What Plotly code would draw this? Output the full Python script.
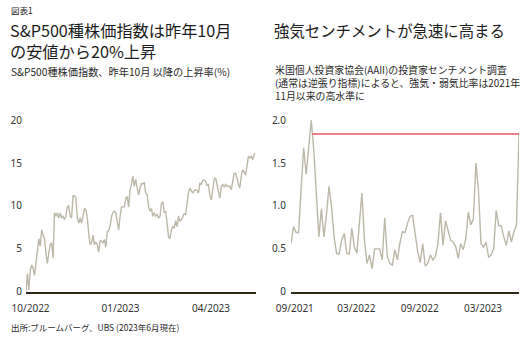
import numpy as np
import plotly.graph_objects as go
from plotly.subplots import make_subplots

# S&P 500: cumulative gain (%) since the October 2022 low, one value per trading day
sp500_gain = [
    0, 2.1, 0.2, 2.5, 3.1, 2.7, 1.9, 3.3, 4.5, 6.2,
    5.3, 7.2, 6.6, 6.2, 4.5, 3.3, 4.5, 5.5, 5.7, 3.9,
    9.2, 8.8, 9.2, 8.6, 9.2, 8.6, 8.8, 8.4, 8.8, 9.9,
    10.0, 8.8, 8.6, 11.2, 11.2, 10.9, 8.6, 8.0, 8.6, 8.0,
    8.8, 9.7, 9.6, 8.6, 6.8, 5.5, 5.7, 6.6, 5.5, 5.8,
    5.5, 4.6, 6.0, 5.8, 5.7, 6.1, 5.2, 7.0, 7.1, 7.7,
    8.8, 9.2, 9.4, 9.2, 8.0, 7.2, 8.8, 9.9, 9.9, 9.9,
    10.9, 11.1, 9.9, 11.9, 12.5, 13.5, 12.3, 13.1, 12.1, 11.3,
    12.1, 12.6, 12.6, 12.7, 11.5, 11.3, 9.9, 9.4, 9.7, 8.8,
    9.2, 8.8, 9.0, 8.6, 8.8, 10.3, 10.5, 9.2, 9.4, 7.6,
    6.4, 6.2, 7.2, 7.6, 7.4, 8.3, 7.6, 8.8, 8.2, 8.4,
    8.8, 9.1, 9.0, 10.3, 11.6, 12.1, 11.7, 11.5, 11.8, 11.9,
    11.8, 11.5, 12.7, 12.5, 13.0, 13.0, 12.9, 12.4, 12.5, 11.2,
    10.7, 11.9, 13.1, 13.3, 12.5, 11.7, 10.9, 12.3, 12.5, 12.2,
    12.5, 12.3, 12.3, 12.3, 11.9, 12.7, 13.8, 13.8, 13.3, 12.5,
    12.1, 13.5, 14.2, 14.0, 13.6, 14.6, 15.8, 15.6, 15.8, 15.4,
    16.0, 16.2,
]
sp500_tick_pos = [3.2, 66.3, 129.8]
sp500_tick_text = ["10/2022", "01/2023", "04/2023"]
sp500_y_ticks = [0, 5, 10, 15, 20]

# AAII bull/bear ratio, weekly survey
aaii_ratio = [
    0.56, 0.76, 0.69, 0.69, 1.20, 1.68, 1.37, 1.68, 2.00, 1.65,
    1.07, 0.64, 0.97, 0.64, 0.90, 1.23, 0.99, 0.64, 0.45, 0.44,
    0.60, 0.68, 0.45, 0.44, 0.74, 0.52, 0.45, 0.83, 1.15, 0.60,
    0.33, 0.43, 0.27, 0.50, 0.50, 0.50, 0.37, 0.86, 0.41, 0.33,
    0.31, 0.49, 0.37, 0.57, 0.70, 0.69, 0.80, 0.88, 0.89, 0.68,
    0.47, 0.34, 0.56, 0.30, 0.33, 0.43, 0.37, 0.41, 0.56, 0.92,
    0.54, 0.83, 0.70, 0.60, 0.58, 0.53, 0.39, 0.56, 0.49, 0.62,
    0.93, 0.78, 0.85, 1.50, 1.18, 0.56, 0.52, 0.58, 0.40, 0.43,
    0.50, 0.95, 0.77, 0.77, 0.64, 0.54, 0.71, 0.58, 0.70, 0.78,
    1.84,
]
aaii_tick_pos = [1.5, 25.8, 50.8, 75.8]
aaii_tick_text = ["09/2021", "03/2022", "09/2022", "03/2023"]
aaii_y_ticks = [0, 0.5, 1.0, 1.5, 2.0]
aaii_y_labels = ["0", "0.5", "1.0", "1.5", "2.0"]

W, H = 526, 347
LINE = "#bcb8a8"
AXIS = "#2e2918"
TXT = "#1c1c1c"
SUB = "#2a2a2a"
JP = "Noto Sans CJK JP"
NUM = "Noto Sans"


def px_x(p):
    return p / W


def px_y(p):
    return 1 - p / H


fig = make_subplots(rows=1, cols=2)

x1 = np.arange(len(sp500_gain))
x2 = np.arange(len(aaii_ratio))

fig.add_trace(go.Scatter(x=x1, y=sp500_gain, mode="lines",
                         line=dict(color=LINE, width=1.4), hoverinfo="skip"),
              row=1, col=1)
fig.add_trace(go.Scatter(x=x2, y=aaii_ratio, mode="lines",
                         line=dict(color=LINE, width=1.4), hoverinfo="skip"),
              row=1, col=2)

# Red reference line at the latest reading, back to where the 2021 peak crossed it
last = aaii_ratio[-1]
peak = int(np.argmax(aaii_ratio))
start = float(peak)
for i in range(peak, len(aaii_ratio) - 1):
    a, b = aaii_ratio[i], aaii_ratio[i + 1]
    if a >= last > b:
        start = i + (a - last) / (a - b)
        break
fig.add_trace(go.Scatter(x=[start, len(aaii_ratio) - 1], y=[last, last], mode="lines",
                         line=dict(color="#e2001a", width=1), hoverinfo="skip"),
              row=1, col=2)

tick_font = dict(family=NUM, size=10, color="#333333")
y_dom = [px_y(291.7), px_y(116.0)]
fig.update_layout(
    width=W, height=H,
    margin=dict(l=0, r=0, t=0, b=0),
    paper_bgcolor="white", plot_bgcolor="white",
    showlegend=False,
    font=dict(family=NUM, color="#333333", size=10),
    xaxis=dict(domain=[px_x(26), px_x(255.5)], range=[0, len(sp500_gain) - 1],
               tickvals=sp500_tick_pos, ticktext=sp500_tick_text,
               showgrid=False, zeroline=False, showline=True, linecolor=AXIS, linewidth=2.2,
               ticks="", ticklabelstandoff=6, automargin=False, tickfont=tick_font),
    yaxis=dict(domain=y_dom, range=[0, 20.5], tickvals=sp500_y_ticks,
               showgrid=False, zeroline=False, showline=False, ticks="",
               ticklabelstandoff=3, automargin=False, tickfont=tick_font),
    xaxis2=dict(domain=[px_x(291), px_x(519)], range=[0, len(aaii_ratio) - 1],
                tickvals=aaii_tick_pos, ticktext=aaii_tick_text,
                showgrid=False, zeroline=False, showline=True, linecolor=AXIS, linewidth=2.2,
                ticks="", ticklabelstandoff=6, automargin=False, tickfont=tick_font),
    yaxis2=dict(domain=y_dom, range=[0, 2.05], tickvals=aaii_y_ticks, ticktext=aaii_y_labels,
                showgrid=False, zeroline=False, showline=False, ticks="",
                ticklabelstandoff=4, automargin=False, tickfont=tick_font),
)


def note(text, x, y, size, color=TXT):
    fig.add_annotation(text=text, xref="paper", yref="paper",
                       x=px_x(x), y=px_y(y), xanchor="left", yanchor="middle",
                       showarrow=False, align="left",
                       font=dict(family=JP, size=size, color=color))


note("図表1", 9, 10, 8.5)
note("S&P500種株価指数は昨年10月<br>の安値から20%上昇", 8, 40, 16.2)
note("S&P500種株価指数、昨年10月 以降の上昇率(%)", 9, 71, 10.2, color=SUB)

note("強気センチメントが急速に高まる", 272, 30, 15.4)
note("米国個人投資家協会(AAII)の投資家センチメント調査<br>"
     "(通常は逆張り指標)によると、強気・弱気比率は2021年<br>"
     "11月以来の高水準に", 273, 83.3, 9.9, color=SUB)

note("出所:ブルームバーグ、UBS (2023年6月現在)", 9, 327, 8.5, color=SUB)

fig.write_html("out.html")
